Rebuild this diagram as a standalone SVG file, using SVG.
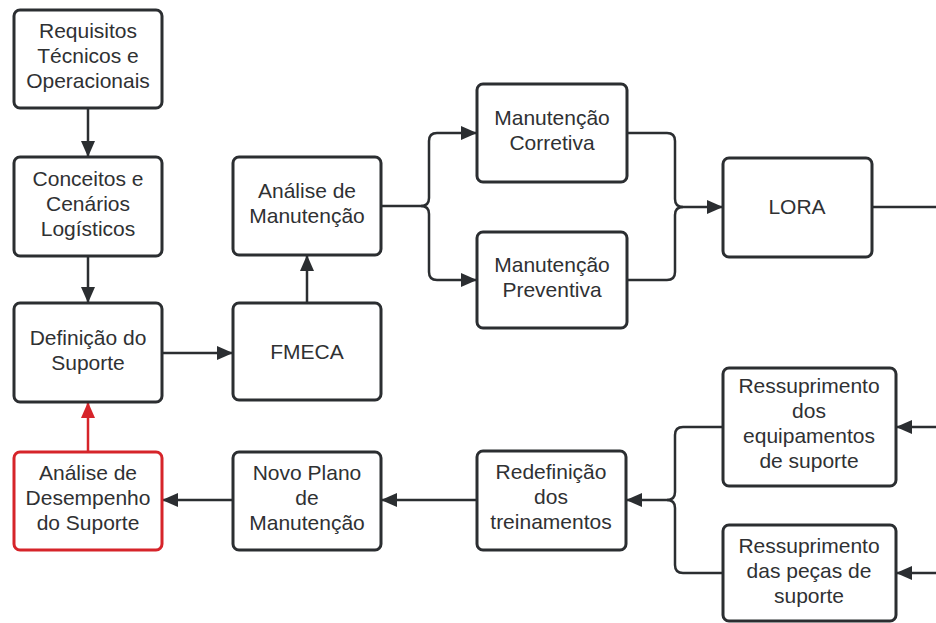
<svg xmlns="http://www.w3.org/2000/svg" width="936" height="623" viewBox="0 0 936 623">
<style>
.box{fill:#fff;stroke:#2b2e31;stroke-width:3}
.red{fill:#fff;stroke:#d6242a;stroke-width:3}
.t{font-family:"Liberation Sans",Arial,sans-serif;font-size:21px;fill:#2f3133;text-anchor:middle}
.c{fill:none;stroke:#2b2e31;stroke-width:2.5}
.cr{fill:none;stroke:#d6242a;stroke-width:2.5}
</style>
<defs>
<marker id="a" markerUnits="userSpaceOnUse" markerWidth="16" markerHeight="14" refX="16" refY="7" orient="auto"><path d="M0,0 L16,7 L0,14 z" fill="#2b2e31"/></marker>
<marker id="ar" markerUnits="userSpaceOnUse" markerWidth="16" markerHeight="14" refX="16" refY="7" orient="auto"><path d="M0,0 L16,7 L0,14 z" fill="#d6242a"/></marker>
</defs>
<rect width="936" height="623" fill="#fff"/>
<g id="connectors">
<path class="c" d="M88,108 V157" marker-end="url(#a)"/>
<path class="c" d="M88,256 V303" marker-end="url(#a)"/>
<path class="c" d="M162,353 H233" marker-end="url(#a)"/>
<path class="c" d="M307,303 V255" marker-end="url(#a)"/>
<path class="c" d="M381,206 H421 Q429,206 429,198 V141 Q429,133 437,133 H477" marker-end="url(#a)"/>
<path class="c" d="M421,206 Q429,206 429,214 V272 Q429,280 437,280 H477" marker-end="url(#a)"/>
<path class="c" d="M627,133 H667 Q675,133 675,141 V199 Q675,207 683,207 H723" marker-end="url(#a)"/>
<path class="c" d="M627,280 H667 Q675,280 675,272 V215 Q675,207 683,207"/>
<path class="c" d="M872,207 H936"/>
<path class="c" d="M936,427 H896" marker-end="url(#a)"/>
<path class="c" d="M936,573 H896" marker-end="url(#a)"/>
<path class="c" d="M723,427 H683 Q675,427 675,435 V492 Q675,500 667,500 H626" marker-end="url(#a)"/>
<path class="c" d="M723,573 H683 Q675,573 675,565 V508 Q675,500 667,500"/>
<path class="c" d="M477,500 H381" marker-end="url(#a)"/>
<path class="c" d="M233,500 H162" marker-end="url(#a)"/>
<path class="cr" d="M88,452 V402" marker-end="url(#ar)"/>
</g>
<g id="requisitos"><rect class="box" x="14" y="10" width="148" height="98" rx="6"/><text class="t" x="88" y="38">Requisitos</text><text class="t" x="88" y="63">Técnicos e</text><text class="t" x="88" y="88">Operacionais</text></g>
<g id="conceitos"><rect class="box" x="14" y="157" width="148" height="99" rx="6"/><text class="t" x="88" y="186">Conceitos e</text><text class="t" x="88" y="211">Cenários</text><text class="t" x="88" y="236">Logísticos</text></g>
<g id="definicao"><rect class="box" x="14" y="303" width="148" height="99" rx="6"/><text class="t" x="88" y="345">Definição do</text><text class="t" x="88" y="370">Suporte</text></g>
<g id="desempenho"><rect class="red" x="14" y="452" width="148" height="98" rx="6"/><text class="t" x="88" y="480">Análise de</text><text class="t" x="88" y="505">Desempenho</text><text class="t" x="88" y="530">do Suporte</text></g>
<g id="analise-manutencao"><rect class="box" x="233" y="157" width="148" height="98" rx="6"/><text class="t" x="307" y="198">Análise de</text><text class="t" x="307" y="223">Manutenção</text></g>
<g id="fmeca"><rect class="box" x="233" y="303" width="148" height="97" rx="6"/><text class="t" x="307" y="359">FMECA</text></g>
<g id="novo-plano"><rect class="box" x="233" y="452" width="148" height="98" rx="6"/><text class="t" x="307" y="480">Novo Plano</text><text class="t" x="307" y="505">de</text><text class="t" x="307" y="530">Manutenção</text></g>
<g id="corretiva"><rect class="box" x="477" y="84" width="150" height="98" rx="6"/><text class="t" x="552" y="125">Manutenção</text><text class="t" x="552" y="150">Corretiva</text></g>
<g id="preventiva"><rect class="box" x="477" y="232" width="150" height="96" rx="6"/><text class="t" x="552" y="272">Manutenção</text><text class="t" x="552" y="297">Preventiva</text></g>
<g id="lora"><rect class="box" x="723" y="158" width="149" height="99" rx="6"/><text class="t" x="797" y="214">LORA</text></g>
<g id="redefinicao"><rect class="box" x="477" y="451" width="149" height="99" rx="6"/><text class="t" x="551" y="479">Redefinição</text><text class="t" x="551" y="504">dos</text><text class="t" x="551" y="529">treinamentos</text></g>
<g id="ressup-equip"><rect class="box" x="723" y="368" width="173" height="118" rx="6"/><text class="t" x="809" y="393">Ressuprimento</text><text class="t" x="809" y="418">dos</text><text class="t" x="809" y="443">equipamentos</text><text class="t" x="809" y="468">de suporte</text></g>
<g id="ressup-pecas"><rect class="box" x="723" y="525" width="173" height="96" rx="6"/><text class="t" x="809" y="553">Ressuprimento</text><text class="t" x="809" y="578">das peças de</text><text class="t" x="809" y="603">suporte</text></g>
</svg>
